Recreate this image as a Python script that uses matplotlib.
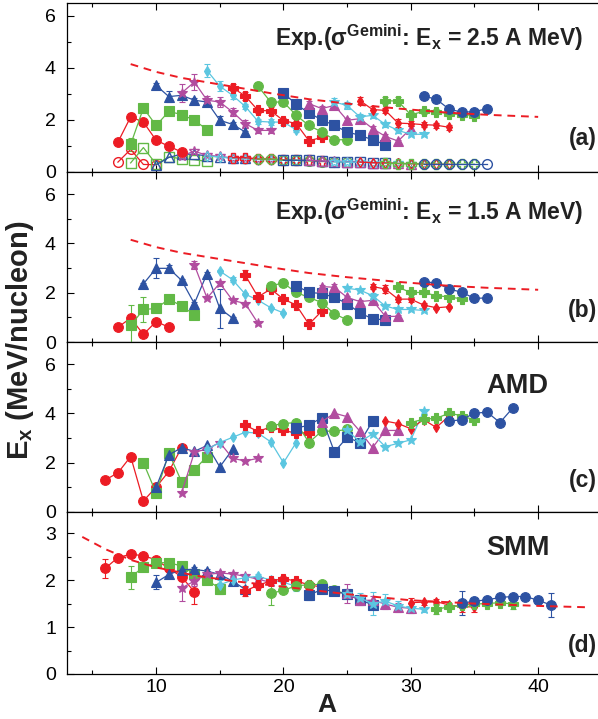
import matplotlib.pyplot as plt
from matplotlib.ticker import MultipleLocator

plt.rcParams['font.family'] = ['Liberation Sans', 'DejaVu Sans']
plt.rcParams['mathtext.default'] = 'regular'

colors = ['#ec1c24', '#62b946', '#2d52a2', '#b14c9f', '#5bc6e0']
markers = ['o', 's', '^', '*', 'd', 'P', 'o', 's', '^', '*', 'd', 'P', 'o']
msize = {'o': 7, 's': 6.5, '^': 7.5, '*': 7.5, 'd': 5.5, 'P': 7.5}

# (a) experiment, Gemini width from Ex = 2.5 A MeV
a_start = [7, 8, 10, 12, 14, 16, 18, 20, 22, 24, 26, 28, 31]
a_ex = [
    [1.15, 2.12, 1.92, 1.22, 0.99, 0.77],
    [1.06, 2.46, 1.79, 2.33, 2.21, 1.99, 1.63],
    [3.33, 2.9, 2.95, 2.76, 2.69, 1.99, 1.83, 1.54],
    [3.04, 3.46, 2.76, 2.69, 2.31, 1.86, 1.6, 1.6],
    [3.9, 3.3, 2.95, 2.52, 1.95, 1.92, 1.92, 1.62],
    [3.25, 2.92, 2.37, 2.35, 1.98, 1.86, 1.2, 1.33],
    [3.3, 2.69, 2.69, 2.18, 1.79, 1.54, 1.24, 1.24],
    [3.04, 2.6, 2.27, 2.01, 1.79, 1.54, 1.41, 1.24, 1.05],
    [2.63, 2.44, 2.56, 1.99, 2.05, 1.67, 1.37, 1.19, 1.67],
    [2.69, 2.56, 2.12, 2.18, 1.83, 1.6, 1.45, 1.45],
    [2.75, 2.4, 2.37, 1.88, 1.86, 1.82, 1.8, 1.72],
    [2.75, 2.72, 2.2, 2.33, 2.32, 2.24, 2.21, 2.17],
    [2.92, 2.8, 2.42, 2.3, 2.32, 2.44],
]
a_err = [
    [0.05, 0.15, 0.1, 0.05, 0.05, 0.05],
    [0.25, 0.15, 0.05, 0.05, 0.05, 0.05, 0.05],
    [0.1, 0.2, 0.15, 0.1, 0.1, 0.15, 0.1, 0.05],
    [0.35, 0.3, 0.15, 0.2, 0.15, 0.15, 0.1, 0.1],
    [0.25, 0.2, 0.15, 0.1, 0.1, 0.1, 0.1, 0.1],
    [0.15, 0.15, 0.1, 0.15, 0.1, 0.1, 0.05, 0.05],
    [0.15, 0.1, 0.1, 0.1, 0.05, 0.05, 0.05, 0.05],
    [0.1, 0.1, 0.1, 0.05, 0.05, 0.05, 0.05, 0.05, 0.05],
    [0.1, 0.1, 0.1, 0.1, 0.1, 0.1, 0.1, 0.05, 0.1],
    [0.15, 0.15, 0.1, 0.1, 0.1, 0.1, 0.05, 0.05],
    [0.15, 0.15, 0.1, 0.15, 0.1, 0.1, 0.1, 0.1],
    [0.15, 0.15, 0.1, 0.1, 0.1, 0.1, 0.1, 0.1],
    [0.1, 0.1, 0.1, 0.05, 0.05, 0.05],
]
a_gem = [
    [0.38, 0.87, 0.29, 0.28],
    [0.35, 0.94, 0.3, 0.58, 0.51, 0.47, 0.41],
    [0.27, 0.56, 0.69, 0.68, 0.62, 0.58, 0.55, 0.52],
    [0.62, 0.8, 0.64, 0.6, 0.52, 0.55, 0.5, 0.5],
    [0.62, 0.58, 0.52, 0.5, 0.48, 0.47, 0.45, 0.45],
    [0.55, 0.55, 0.5, 0.5, 0.47, 0.45, 0.45, 0.42],
    [0.5, 0.5, 0.45, 0.45, 0.42, 0.4, 0.4, 0.38],
    [0.45, 0.45, 0.45, 0.42, 0.4, 0.4, 0.38, 0.36, 0.35],
    [0.45, 0.42, 0.42, 0.4, 0.38, 0.36, 0.35, 0.33, 0.32],
    [0.4, 0.38, 0.37, 0.36, 0.35, 0.33, 0.32, 0.32],
    [0.38, 0.36, 0.35, 0.33, 0.32, 0.3, 0.3, 0.3],
    [0.33, 0.32, 0.32, 0.3, 0.3, 0.3, 0.3, 0.3],
    [0.3, 0.3, 0.3, 0.3, 0.3, 0.3],
]

# (b) experiment, Gemini width from Ex = 1.5 A MeV
b_start = [7, 8, 9, 13, 15, 17, 19, 21, 23, 25, 27, 29, 31]
b_ex = [
    [0.6, 0.97, 0.31, 0.83, 0.6],
    [0.67, 1.32, 1.36, 1.74, 1.46, 1.11],
    [2.36, 2.99, 2.99, 2.5, 1.56, 2.78, 1.36, 0.97],
    [3.13, 1.78, 2.39, 1.69, 1.56, 0.76],
    [2.88, 2.53, 1.94, 1.7, 1.39, 1.18],
    [2.71, 1.83, 2.15, 1.74, 1.5, 0.72, 1.25],
    [2.29, 2.39, 2.01, 1.81, 1.6, 1.14, 0.9],
    [2.29, 2.01, 1.97, 1.81, 1.56, 1.18, 0.94, 0.9],
    [2.25, 2.22, 1.81, 1.64, 1.69, 1.04, 1.04],
    [2.18, 2.11, 1.88, 1.46, 1.32, 1.32, 1.28],
    [2.25, 2.15, 1.74, 1.74, 1.5, 1.39, 1.43],
    [2.22, 2.01, 2.01, 1.88, 1.83, 1.75],
    [2.43, 2.41, 2.15, 2.02, 1.77, 1.79],
]
b_err = [
    [0.05, 0.1, 0.05, 0.05, 0.05],
    [0.85, 0.5, 0.05, 0.1, 0.05, 0.05],
    [0.05, 0.4, 0.15, 0.05, 0.05, 0.05, 0.8, 0.05],
    [0.15, 0.05, 0.1, 0.05, 0.05, 0.05],
    [0.05, 0.1, 0.05, 0.05, 0.05, 0.05],
    [0.2, 0.05, 0.05, 0.05, 0.05, 0.05, 0.05],
    [0.05, 0.15, 0.05, 0.05, 0.05, 0.05, 0.05],
    [0.15, 0.1, 0.05, 0.05, 0.05, 0.05, 0.05, 0.05],
    [0.05, 0.15, 0.05, 0.05, 0.05, 0.05, 0.05],
    [0.1, 0.05, 0.1, 0.1, 0.05, 0.05, 0.05],
    [0.1, 0.15, 0.1, 0.1, 0.1, 0.05, 0.05],
    [0.05, 0.1, 0.05, 0.05, 0.05, 0.05],
    [0.05, 0.05, 0.05, 0.05, 0.05, 0.05],
]

# (c) AMD
c_start = [6, 9, 10, 12, 14, 17, 19, 21, 23, 25, 28, 30, 33]
c_ex = [
    [1.3, 1.59, 2.25, 0.45, 1.01, 1.65, 2.61],
    [2.0, 0.77, 2.39, 1.23, 1.72, 2.25],
    [1.01, 2.32, 2.61, 2.46, 2.7, 1.83, 2.54],
    [0.77, 2.42, 2.56, 2.82, 2.18, 2.07, 2.18],
    [2.54, 2.82, 3.03, 3.24, 3.2, 2.85, 2.0, 2.82],
    [3.52, 3.27, 3.45, 3.31, 3.2, 3.22],
    [3.5, 3.59, 3.63, 2.82, 3.28, 3.28, 3.35],
    [3.41, 3.52, 3.83, 2.44, 3.03, 2.82, 3.69],
    [3.66, 4.01, 3.87, 3.28, 2.61, 3.31, 3.31],
    [3.31, 2.85, 3.17, 2.65, 2.79, 2.93, 4.08],
    [3.69, 3.59, 3.38, 3.75, 3.43, 3.9],
    [3.63, 3.77, 3.8, 4.01, 3.91, 3.73],
    [3.68, 3.75, 4.01, 4.05, 3.63, 4.22],
]

# (d) SMM
d_start = [6, 8, 10, 12, 15, 17, 19, 22, 25, 25, 30, 32, 34]
d_ex = [
    [2.25, 2.48, 2.55, 2.52, 2.43, 2.25, 2.07, 1.75],
    [2.06, 2.28, 2.37, 2.37, 2.3, 2.13, 2.0, 1.82],
    [1.95, 2.12, 2.22, 2.23, 2.19, 2.12, 1.98, 1.8],
    [1.83, 1.98, 2.12, 2.15, 2.13, 2.08, 2.02, 1.95],
    [1.9, 2.0, 2.05, 2.08, 2.0, 1.95, 1.87],
    [1.77, 1.89, 1.98, 2.03, 1.98, 1.9, 1.85],
    [1.72, 1.78, 1.88, 1.9, 1.91, 1.78, 1.7],
    [1.68, 1.8, 1.76, 1.7, 1.57, 1.48],
    [1.72, 1.57, 1.57, 1.49, 1.42, 1.4],
    [1.7, 1.62, 1.5, 1.55, 1.45, 1.4, 1.38],
    [1.52, 1.53, 1.54, 1.47, 1.43, 1.43],
    [1.38, 1.43, 1.46, 1.49, 1.5, 1.52, 1.49],
    [1.51, 1.55, 1.58, 1.63, 1.65, 1.65, 1.57, 1.47],
]
d_err = [
    [0.2, 0.05, 0.05, 0.05, 0.05, 0.05, 0.1, 0.25],
    [0.25, 0.05, 0.05, 0.05, 0.05, 0.05, 0.05, 0.12],
    [0.15, 0.05, 0.05, 0.05, 0.05, 0.05, 0.05, 0.05],
    [0.27, 0.1, 0.05, 0.05, 0.05, 0.05, 0.05, 0.05],
    [0.1, 0.05, 0.05, 0.05, 0.05, 0.05, 0.1],
    [0.1, 0.05, 0.05, 0.05, 0.05, 0.05, 0.05],
    [0.25, 0.05, 0.05, 0.05, 0.05, 0.05, 0.05],
    [0.1, 0.05, 0.05, 0.05, 0.05, 0.05],
    [0.2, 0.1, 0.1, 0.1, 0.1, 0.1],
    [0.1, 0.1, 0.25, 0.15, 0.1, 0.1, 0.05],
    [0.1, 0.05, 0.05, 0.05, 0.1, 0.1],
    [0.1, 0.05, 0.05, 0.05, 0.05, 0.05, 0.1],
    [0.25, 0.05, 0.05, 0.05, 0.05, 0.05, 0.05, 0.25],
]

# dashed reference curves
dash_A = [8, 10, 12, 14, 17, 19, 22, 25, 29, 33, 36, 40]
dash_ex = [4.15, 3.85, 3.62, 3.45, 3.2, 3.03, 2.8, 2.63, 2.44, 2.28, 2.2, 2.12]
dash_smm_A = [4.2, 6, 8, 10, 13, 16, 20, 25, 30, 35, 40, 44]
dash_smm = [2.92, 2.66, 2.43, 2.27, 2.1, 1.98, 1.86, 1.7, 1.57, 1.5, 1.45, 1.42]


def draw(ax, starts, vals, errs=None, filled=True):
    for i, (s, v) in enumerate(zip(starts, vals)):
        c = colors[i % 5]
        m = markers[i]
        A = list(range(s, s + len(v)))
        ax.errorbar(A, v, yerr=errs[i] if errs else None, color=c, marker=m,
                    ms=msize[m], mfc=c if filled else 'none', mec=c, mew=0.8 if filled else 1.0,
                    lw=0.9, elinewidth=0.8, capsize=2, capthick=0.8, zorder=3)


fig = plt.figure(figsize=(5.98, 7.19), dpi=100)
L, W = 67 / 598, 531 / 598
rows = [(3, 172), (172, 342), (342, 512), (512, 674)]
axes = [fig.add_axes([L, 1 - b / 719, W, (b - t) / 719]) for t, b in rows]
ax_a, ax_b, ax_c, ax_d = axes

draw(ax_a, a_start, a_gem, filled=False)
draw(ax_a, a_start, a_ex, a_err)
ax_a.plot(dash_A, dash_ex, color=colors[0], ls=(0, (4, 3)), lw=1.4, zorder=4)
draw(ax_b, b_start, b_ex, b_err)
ax_b.plot(dash_A, dash_ex, color=colors[0], ls=(0, (4, 3)), lw=1.4, zorder=4)
draw(ax_c, c_start, c_ex)
draw(ax_d, d_start, d_ex, d_err)
ax_d.plot(dash_smm_A, dash_smm, color=colors[0], ls=(0, (4, 3)), lw=1.4, zorder=4)

ylims = [6.5, 6.9, 6.9, 3.45]
for ax, top in zip(axes, ylims):
    ax.set_xlim(3, 44.7)
    ax.set_ylim(0, top)
    ax.spines['right'].set_visible(False)
    for sp in ax.spines.values():
        sp.set_linewidth(0.9)
    ax.xaxis.set_major_locator(MultipleLocator(10))
    ax.xaxis.set_minor_locator(MultipleLocator(5))
    ax.tick_params(which='both', direction='in', top=True, right=False, labelsize=14, width=0.8)
    ax.tick_params(which='major', length=5)
    ax.tick_params(which='minor', length=3)
    ax.tick_params(axis='y', pad=8)
    if ax is not ax_d:
        ax.yaxis.set_major_locator(MultipleLocator(2))
        ax.yaxis.set_minor_locator(MultipleLocator(1))
        ax.tick_params(labelbottom=False)
    else:
        ax.yaxis.set_major_locator(MultipleLocator(1))
        ax.yaxis.set_minor_locator(MultipleLocator(0.5))

txt = dict(fontsize=16.5, fontweight='bold', color='#222222')
ax_a.text(0.972, 0.793, 'Exp.(σ$^{Gemini}$: E$_x$ = 2.5 A MeV)', transform=ax_a.transAxes,
          ha='right', va='center', **txt)
ax_b.text(0.972, 0.765, 'Exp.(σ$^{Gemini}$: E$_x$ = 1.5 A MeV)', transform=ax_b.transAxes,
          ha='right', va='center', **txt)
big = dict(txt, fontsize=19.5)
ax_c.text(0.849, 0.741, 'AMD', transform=ax_c.transAxes, ha='center', va='center', **big)
ax_d.text(0.849, 0.778, 'SMM', transform=ax_d.transAxes, ha='center', va='center', **big)
for ax, lab, yy in zip(axes, ['(a)', '(b)', '(c)', '(d)'], [0.2, 0.188, 0.188, 0.179]):
    ax.text(0.998, yy, lab, transform=ax.transAxes, ha='right', va='center', **txt)

fig.text(0.033, 0.527, 'E$_x$ (MeV/nucleon)', rotation=90, ha='center', va='center',
         fontsize=21, fontweight='bold', color='#222222')
fig.text(0.547, 0.02, 'A', ha='center', va='center', fontsize=19, fontweight='bold', color='#222222')

fig.savefig('out.png', dpi=100)
